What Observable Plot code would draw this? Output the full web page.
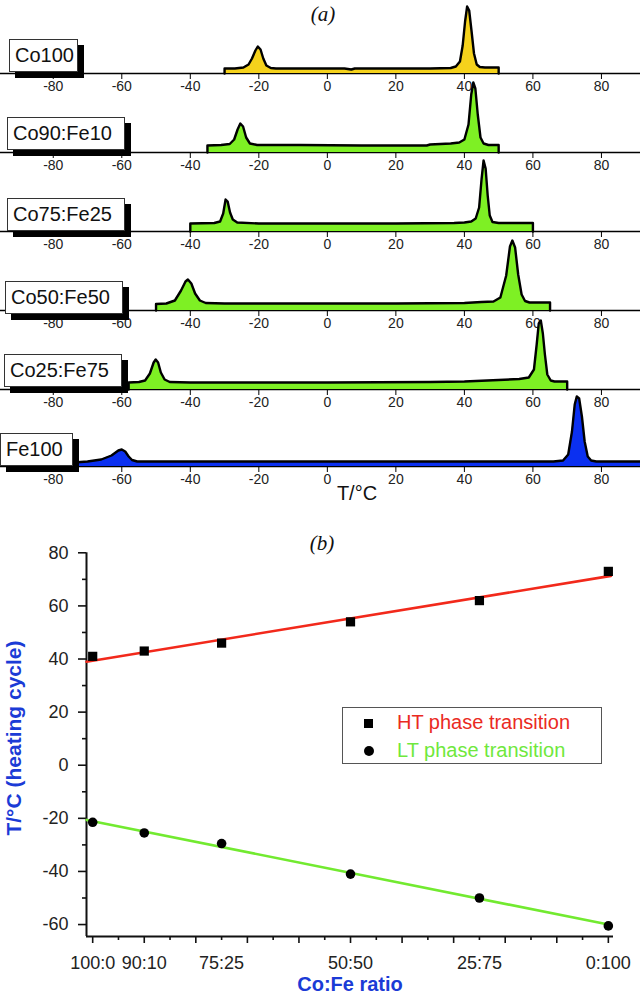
<!DOCTYPE html>
<html><head><meta charset="utf-8">
<script src="https://cdn.jsdelivr.net/npm/d3@7"></script>
<script src="https://cdn.jsdelivr.net/npm/@observablehq/plot@0.6"></script>
<style>
body{margin:0;background:#fff;}
#root{position:relative;width:640px;height:995px;overflow:hidden;font-family:"Liberation Sans",Arial,sans-serif;background:#fff;}
.abs{position:absolute;}
.abs svg{overflow:visible;}
.box{position:absolute;background:#fff;border:1px solid #333;box-shadow:6px 6px 0 #000;font-size:20px;color:#111;display:flex;align-items:center;padding-left:5px;box-sizing:border-box;white-space:nowrap;}
.ttl{position:absolute;font-family:"Liberation Serif","Times New Roman",serif;font-style:italic;font-size:21px;color:#111;transform:translate(-50%,-50%);}
</style></head><body><div id="root"></div>
<script>
// ---- data ----
const samples = ["Co100", "Co90:Fe10", "Co75:Fe25", "Co50:Fe50", "Co25:Fe75", "Fe100"];
const sampleColors = ["#f5d21c", "#7ef024", "#7ef024", "#7ef024", "#7ef024", "#0b30f0"];
// DSC traces: [T (°C), signal (arbitrary, px-like units above baseline)]
const co100Curve = [[-30,0],[-30,5],[-27,5],[-24.5,6],[-23,9],[-22,15],[-21,23],[-20.3,27],[-19.5,24],[-18.7,15],[-17.8,8],[-16.5,5.5],[-15,5],[-5,5],[5,5],[7,4],[8,5],[20,5],[30,5],[36,5.5],[37.5,7],[38.7,12],[39.5,28],[40.2,52],[40.8,67],[41.4,63],[42.1,42],[42.8,20],[43.6,9],[44.5,6.5],[46,6],[50,6],[50,0]];
const co90Curve = [[-35,0],[-35,7],[-31,7.5],[-28.5,8.5],[-27.2,13],[-26.2,23],[-25.4,29],[-24.6,26],[-23.7,15],[-22.6,9],[-20.5,7.5],[-8,7.5],[10,7],[29,7],[30,8],[36,9],[38.5,10],[40,13],[41.2,28],[42,58],[42.6,70],[43.2,64],[43.9,38],[44.7,15],[45.6,9],[47,7.5],[50,7.5],[50,0]];
const co75Curve = [[-40,0],[-40,8],[-33,8.5],[-31.3,10],[-30.4,18],[-29.7,32],[-29.1,30],[-28.4,19],[-27.6,12],[-26.3,9],[-20,8],[0,8],[20,8],[37,8.5],[40,9],[42,10],[43.3,13],[44.3,24],[45,52],[45.6,71],[46.2,63],[46.8,36],[47.4,16],[48.2,9.5],[50,8.5],[60,8.5],[60,0]];
const co50Curve = [[-50,0],[-50,6.5],[-47,7],[-44.5,10],[-42.7,20],[-41.4,29],[-40.7,31],[-39.7,27],[-38.6,17],[-37.2,10],[-35.5,7.5],[-30,7],[0,7],[20,7],[40,7.5],[45,8.5],[48.5,9],[50.5,13],[52.2,35],[53.3,64],[54,70],[54.8,63],[55.7,36],[56.7,16],[57.7,9.5],[59,8],[65,8],[65,0]];
const co25Curve = [[-58,0],[-58,7],[-55,7.5],[-53.2,9],[-51.8,16],[-50.7,27],[-50.1,30],[-49.4,27],[-48.6,17],[-47.5,10],[-46,7.5],[-40,7],[0,7],[30,7.5],[40,8],[50,9.5],[56,10.5],[58.8,12],[60.3,20],[61.1,45],[61.7,66],[62.3,69],[62.9,56],[63.5,35],[64.2,15],[65.2,9],[66.3,8],[70,8],[70,0]];
const fe100Curve = [[-74,0],[-74,4],[-70,5],[-66,7],[-63,11],[-61,16],[-60,17],[-59,15],[-58,10],[-57,6.5],[-55.5,5],[-50,5],[0,5],[50,5],[66,5],[68.8,6],[70.3,12],[71.4,35],[72.2,62],[72.8,70],[73.5,68],[74.3,50],[75.1,25],[76,10],[77,6],[78.5,5],[92,5]];
const tempTicks = [-80, -60, -40, -20, 0, 20, 40, 60, 80];

// panel (b)
const ratioFe = [0, 10, 25, 50, 75, 100];
const ratioLabels = ["100:0", "90:10", "75:25", "50:50", "25:75", "0:100"];
const htTemps = [41, 43, 46, 54, 62, 73];
const ltTemps = [-21.5, -25.5, -29.5, -41, -50, -60.5];
const fitFe = [-1.2, 100.5];
const htFit = [39.0, 71.3];
const ltFit = [-20.6, -60.2];
const yTicks = [-60, -40, -20, 0, 20, 40, 60, 80];
const yMinorTicks = [-50, -30, -10, 10, 30, 50, 70];
const xMajorTicks = [0, 10, 20, 30, 40, 50, 60, 70, 80, 90, 100];
const xMinorTicks = [5, 15, 25, 35, 45, 55, 65, 75, 85, 95];

// ---- layout ----
const root = document.getElementById("root");
const FONT = '"Liberation Sans", Arial, sans-serif';
const curves = [co100Curve, co90Curve, co75Curve, co50Curve, co25Curve, fe100Curve];
const baselines = [73, 152, 230.5, 310, 389, 466];
const boxes = [[9,69,-1],[7,118,-2],[7,118,0],[5,118,4],[4,118,-2],[0,73,0]];

function place(el, left, top) {
  const d = document.createElement("div");
  d.className = "abs";
  d.style.left = left + "px";
  d.style.top = top + "px";
  d.appendChild(el);
  root.appendChild(d);
  return d;
}
function label(text, css) {
  const d = document.createElement("div");
  d.textContent = text;
  d.style.position = "absolute";
  Object.assign(d.style, css);
  root.appendChild(d);
  return d;
}

const ta = label("(a)", {}); ta.className = "ttl"; ta.style.left = "323px"; ta.style.top = "14px";

curves.forEach((c, i) => {
  const data = c.map(([T, S]) => ({T, S}));
  const p = Plot.plot({
    width: 640, height: 100,
    marginTop: 0, marginBottom: 25, marginLeft: 0, marginRight: 0,
    x: {domain: [-95.4, 91.4]},
    y: {domain: [0, 75], axis: null},
    style: {background: "transparent", overflow: "visible", fontFamily: FONT, fontSize: "14px", color: "#222"},
    marks: [
      Plot.ruleY([0], {stroke: "#000", strokeWidth: 1.6}),
      Plot.areaY(data, {x: "T", y: "S", fill: sampleColors[i]}),
      Plot.lineY(data, {x: "T", y: "S", stroke: "#000", strokeWidth: 2.4, strokeLinejoin: "round"}),
      Plot.axisX({ticks: tempTicks, tickSize: 6, tickPadding: 2, tickFormat: d => String(d), label: null, fontSize: 14, stroke: "#000"})
    ]
  });
  place(p, 0, baselines[i] - 75);
});

samples.forEach((s, i) => {
  const [l, w, off] = boxes[i];
  const b = document.createElement("div");
  b.className = "box";
  b.textContent = s;
  b.style.left = l + "px";
  b.style.width = w + "px";
  b.style.height = "33px";
  b.style.top = (baselines[i] + off - 33) + "px";
  root.appendChild(b);
});

label("T/°C", {left: "357px", top: "493px", transform: "translate(-50%,-50%)", fontSize: "20px", color: "#111"});

const tb = label("(b)", {}); tb.className = "ttl"; tb.style.left = "322px"; tb.style.top = "543px";

// panel (b)
const xDom = [-1.2, 101], yDom = [-64.5, 80];
const ht = ratioFe.map((f, i) => ({f, t: htTemps[i]}));
const lt = ratioFe.map((f, i) => ({f, t: ltTemps[i]}));
const htLine = fitFe.map((f, i) => ({f, t: htFit[i]}));
const ltLine = fitFe.map((f, i) => ({f, t: ltFit[i]}));
const pb = Plot.plot({
  width: 640, height: 455,
  marginTop: 12.3, marginBottom: 59, marginLeft: 86, marginRight: 27,
  x: {domain: xDom},
  y: {domain: yDom},
  style: {background: "transparent", overflow: "visible", fontFamily: FONT, fontSize: "18px", color: "#222"},
  marks: [
    Plot.axisY({ticks: yTicks, tickSize: 8, tickPadding: 10, tickFormat: d => String(d), label: null, fontSize: 18, strokeWidth: 1.6, stroke: "#111"}),
    Plot.axisY({ticks: yMinorTicks, tickSize: 4, tickFormat: () => "", label: null, strokeWidth: 1.6, stroke: "#111"}),
    Plot.axisX({ticks: xMajorTicks, tickSize: 7, tickFormat: () => "", label: null, strokeWidth: 1.6, stroke: "#111"}),
    Plot.axisX({ticks: xMinorTicks, tickSize: 4, tickFormat: () => "", label: null, strokeWidth: 1.6, stroke: "#111"}),
    Plot.axisX({ticks: ratioFe, tickSize: 0, tickPadding: 20, tickFormat: d => ratioLabels[ratioFe.indexOf(d)], label: null, fontSize: 18}),
    Plot.ruleX([xDom[0]], {stroke: "#111", strokeWidth: 2}),
    Plot.ruleY([yDom[0]], {stroke: "#111", strokeWidth: 2}),
    Plot.line(htLine, {x: "f", y: "t", stroke: "#f2291b", strokeWidth: 2.6}),
    Plot.line(ltLine, {x: "f", y: "t", stroke: "#72ea30", strokeWidth: 2.6}),
    Plot.dot(ht, {x: "f", y: "t", symbol: "square", r: 5.2, fill: "#000"}),
    Plot.dot(lt, {x: "f", y: "t", symbol: "circle", r: 4.8, fill: "#000"})
  ]
});
place(pb, 0, 540);

label("T/°C (heating cycle)", {left: "14px", top: "738px", transform: "translate(-50%,-50%) rotate(-90deg)", fontSize: "21px", fontWeight: "bold", color: "#1b3bd6", whiteSpace: "nowrap"});
label("Co:Fe ratio", {left: "350px", top: "984px", transform: "translate(-50%,-50%)", fontSize: "20px", lineHeight: "1", fontWeight: "bold", color: "#1b3bd6", whiteSpace: "nowrap"});

// legend
const lg = label("", {left: "342px", top: "707px", width: "260px", height: "57px", border: "1.5px solid #555", boxSizing: "border-box", background: "#fff"});
const sq = document.createElement("div");
Object.assign(sq.style, {position: "absolute", left: "21px", top: "11px", width: "9px", height: "9px", background: "#000"});
lg.appendChild(sq);
const ci = document.createElement("div");
Object.assign(ci.style, {position: "absolute", left: "21px", top: "38px", width: "10px", height: "10px", borderRadius: "50%", background: "#000"});
lg.appendChild(ci);
const t1 = document.createElement("div");
t1.textContent = "HT phase transition";
Object.assign(t1.style, {position: "absolute", left: "54px", top: "3px", fontSize: "20px", color: "#ea2a22", whiteSpace: "nowrap"});
lg.appendChild(t1);
const t2 = document.createElement("div");
t2.textContent = "LT phase transition";
Object.assign(t2.style, {position: "absolute", left: "54px", top: "31px", fontSize: "20px", color: "#6fe83c", whiteSpace: "nowrap"});
lg.appendChild(t2);
</script></body></html>
